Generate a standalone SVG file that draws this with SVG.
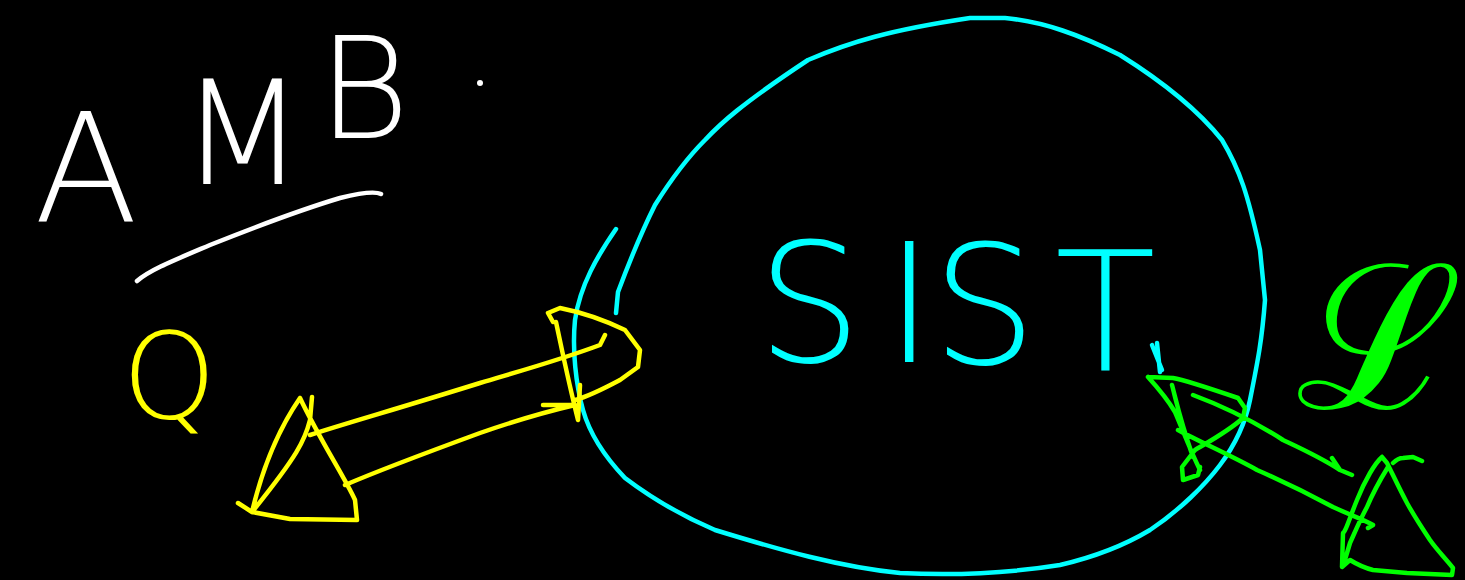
<svg xmlns="http://www.w3.org/2000/svg" width="1465" height="580" viewBox="0 0 1465 580">
<style>
.s{fill:none;stroke-width:4.5;stroke-linecap:round;stroke-linejoin:round}
.t{font-family:"DejaVu Sans","Liberation Sans",sans-serif;font-weight:200}
.w{stroke:#fff}.c{stroke:#00ffff}.y{stroke:#ffff00}.g{stroke:#00ff00}
</style>
<rect width="1465" height="580" fill="#000"/>
<g id="amb">
<text class="t" fill="#fff" font-size="152" x="34" y="222">A</text>
<text class="t" fill="#fff" font-size="145" x="180" y="184">M</text>
<text class="t" fill="#fff" font-size="140" x="318" y="138">B</text>
<circle cx="480" cy="83" r="3" fill="#fff"/>
<path class="s w" d="M137,281 C150,270 170,262 210,245 C260,225 300,210 340,198 C360,193 375,191 381,194"/>
</g>
<g id="sist">
<path class="s c" d="M616,313 L618,292 C630,260 640,235 655,205 C672,178 690,155 705,140 C720,124 740,105 808,60 C850,42 890,30 970,18 L1005,18 C1045,22 1080,35 1120,55 C1160,80 1198,110 1222,140 C1240,170 1248,195 1260,250 L1265,300 C1262,340 1258,360 1250,400 C1245,425 1235,445 1220,465 C1205,485 1180,510 1150,530 C1120,548 1090,558 1060,565 C1010,573 960,576 900,573 C840,567 780,550 715,530 C680,515 650,497 625,478 C605,457 590,435 583,410 C576,385 572,350 575,320 C580,285 598,255 616,229"/>
<path class="s c" d="M1152,345 L1162,370 M1157,343 L1160,372"/>
<text class="t" fill="#00ffff" font-size="165" x="757 885 932 1055" y="362 362 364 370">SIST</text>
</g>
<g id="q">
<text class="t" fill="#ffff00" font-size="120" x="122" y="418">Q</text>
</g>
<g id="l">
<text class="t" fill="#00ff00" font-size="200" x="1296" y="408">ℒ</text>
</g>
<g id="connectors">
<path class="s y" d="M300,398 C320,440 345,478 355,500 L357,520 L290,519 L252,512 L238,503 M252,512 C262,470 278,430 300,398 M312,397 L310,420 C305,440 298,455 252,512 M310,435 C340,425 400,408 480,383 C520,371 560,360 600,345 L605,335 M345,485 C380,470 420,455 480,433 C520,419 545,412 575,405 L543,405 M556,322 C562,350 568,380 578,420 L580,385 M553,322 L548,313 L560,308 C580,312 600,318 625,330 L640,350 L638,367 L620,380 C605,388 590,396 575,400"/>
<path class="s g" d="M1148,377 L1173,378 C1185,380 1200,385 1238,398 L1245,408 L1243,418 C1230,430 1212,440 1195,450 L1182,467 L1183,480 L1198,475 L1200,467 M1148,377 C1158,388 1168,400 1175,412 C1182,428 1190,450 1200,470 M1172,385 C1176,400 1180,420 1193,457 M1193,395 C1220,405 1247,417 1283,440 C1300,448 1320,457 1340,470 L1352,475 M1332,458 L1340,470 M1178,430 C1200,442 1230,455 1257,470 C1280,480 1307,493 1333,507 C1350,515 1365,520 1373,525 L1368,528 M1382,457 C1375,463 1365,480 1357,500 C1350,517 1345,533 1343,533 L1342,567 L1350,560 C1358,565 1365,568 1373,570 L1407,573 L1452,575 L1453,568 C1445,558 1437,550 1430,540 C1420,525 1412,512 1407,503 C1400,490 1393,475 1387,463 L1382,457 M1393,463 C1396,460 1400,458 1403,458 L1413,457 L1422,461 M1388,467 C1380,480 1372,495 1367,507 C1360,520 1355,532 1350,543 L1344,563"/>
</g>
</svg>
